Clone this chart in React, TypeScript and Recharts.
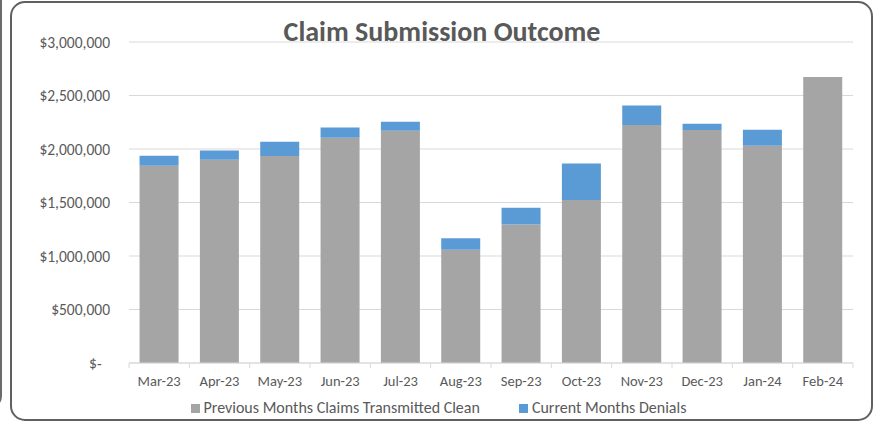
import React from 'react';
import { BarChart, Bar, XAxis, YAxis, CartesianGrid, Legend } from 'recharts';

const months = ['Mar-23', 'Apr-23', 'May-23', 'Jun-23', 'Jul-23', 'Aug-23', 'Sep-23', 'Oct-23', 'Nov-23', 'Dec-23', 'Jan-24', 'Feb-24'];
const cleanClaims = [1844000, 1900000, 1935000, 2105000, 2170000, 1059000, 1295000, 1523000, 2224000, 2177000, 2031000, 2673000];
const denials = [93000, 87000, 133000, 95000, 85000, 106000, 156000, 342000, 183000, 59000, 149000, 0];
const yTicks = [0, 500000, 1000000, 1500000, 2000000, 2500000, 3000000];

const SERIES_CLEAN = 'Previous Months Claims Transmitted Clean';
const SERIES_DENIALS = 'Current Months Denials';
const seriesOrder = [SERIES_CLEAN, SERIES_DENIALS];

const data = months.map((m, i) => ({ month: m, clean: cleanClaims[i], denials: denials[i] }));

const FONT = 'Carlito, Lato, sans-serif';
const TEXT = '#595959';
const GRID = '#d9d9d9';

const fmtY = (v: number) => (v === 0 ? '$-\u2007' : '$' + v.toLocaleString('en-US'));

const XTick = (props: any) => {
  const { x, y, payload, index } = props;
  const half = payload.offset || 0;
  const last = index === months.length - 1;
  return (
    <g>
      <line x1={x - half} x2={x - half} y1={y} y2={y + 5} stroke={GRID} />
      {last && <line x1={x + half} x2={x + half} y1={y} y2={y + 5} stroke={GRID} />}
      <text x={x} y={y + 23} textAnchor="middle" fill={TEXT} fontSize={14.5} fontFamily={FONT}>
        {payload.value}
      </text>
    </g>
  );
};

const LegendContent = (props: any) => {
  const payload = [...(props.payload || [])].sort(
    (a: any, b: any) => seriesOrder.indexOf(a.value) - seriesOrder.indexOf(b.value)
  );
  return (
    <div style={{ display: 'flex', justifyContent: 'center', alignItems: 'center', fontFamily: FONT, fontSize: 16, color: TEXT, gap: 39, lineHeight: '18px' }}>
      {payload.map((p: any) => (
        <div key={p.value} style={{ display: 'flex', alignItems: 'center' }}>
          <span style={{ display: 'inline-block', width: 9, height: 9, background: p.color, marginRight: 4 }} />
          <span>{p.value}</span>
        </div>
      ))}
    </div>
  );
};

export default function App() {
  return (
    <div style={{ position: 'absolute', left: 0, top: 0, width: 877, height: 422, background: '#fff', overflow: 'hidden' }}>
      <div style={{ position: 'absolute', left: -20, top: -4, width: 22, height: 412, borderRight: '2px solid #6b6b6b', borderBottom: '2px solid #6b6b6b', borderBottomRightRadius: 12, boxSizing: 'border-box' }} />
      <div style={{ position: 'absolute', left: 10, top: 1, width: 863, height: 420, border: '2px solid #606060', borderRadius: 15, boxSizing: 'border-box' }} />
      <div style={{ position: 'absolute', left: 0, top: 16, width: 884, textAlign: 'center', fontFamily: FONT, fontWeight: 700, fontSize: 28, color: TEXT, lineHeight: '32px', zIndex: 2 }}>
        Claim Submission Outcome
      </div>
      <div style={{ position: 'absolute', left: 0, top: 0 }}>
        <BarChart width={877} height={422} data={data} margin={{ top: 42, right: 24, left: 0, bottom: 0 }} barCategoryGap="17.5%">
          <CartesianGrid vertical={false} stroke={GRID} />
          <XAxis
            dataKey="month"
            height={59}
            axisLine={{ stroke: GRID }}
            tickLine={false}
            tickSize={0}
            tickMargin={0}
            interval={0}
            tick={<XTick />}
          />
          <YAxis
            width={129}
            domain={[0, 3000000]}
            ticks={yTicks}
            tickFormatter={fmtY}
            axisLine={false}
            tickLine={false}
            tickSize={0}
            tickMargin={19}
            tick={{ fill: TEXT, fontSize: 15.5, fontFamily: FONT }}
          />
          <Legend
            layout="horizontal"
            verticalAlign="middle"
            align="center"
            content={<LegendContent />}
            wrapperStyle={{ top: 399, left: 0, width: 877, height: 18 }}
          />
          <Bar dataKey="clean" name={SERIES_CLEAN} stackId="a" fill="#A5A5A5" isAnimationActive={false} />
          <Bar dataKey="denials" name={SERIES_DENIALS} stackId="a" fill="#5B9BD5" isAnimationActive={false} />
        </BarChart>
      </div>
    </div>
  );
}
